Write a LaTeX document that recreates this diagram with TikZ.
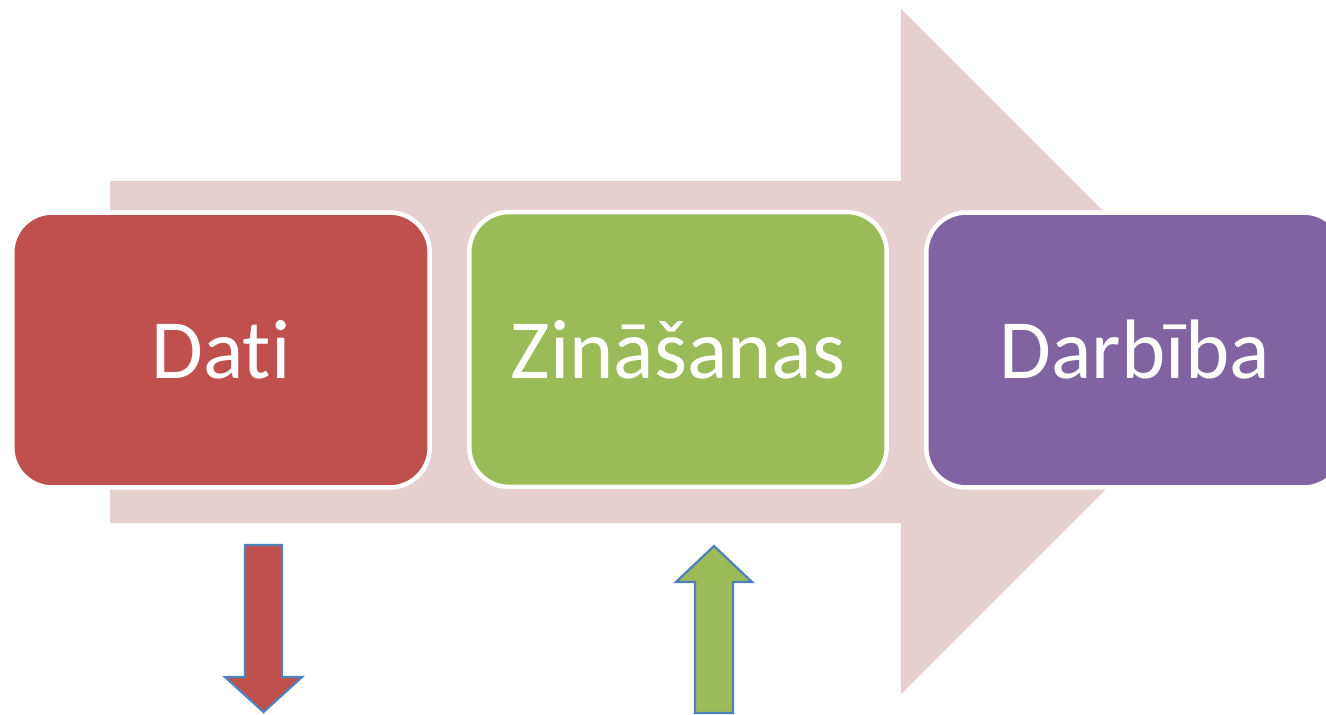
\documentclass[tikz,border=0pt]{standalone}
\usepackage{fontspec}
\setmainfont{Carlito}[Ligatures=NoCommon]
\usetikzlibrary{positioning}
\definecolor{datired}{HTML}{C0504D}
\definecolor{zinagreen}{HTML}{9BBB59}
\definecolor{darbpurple}{HTML}{8064A2}
\definecolor{flowpink}{HTML}{E7D0D0}
\definecolor{edgeblue}{HTML}{4F81BD}

\begin{document}
\begin{tikzpicture}[
  x=0.02cm,y=-0.02cm,
  box/.style={draw=white,line width=0.09cm,rounded corners=0.8cm,minimum width=8.35cm,
    minimum height=5.5cm,inner sep=0pt,text=white,font=\fontsize{48}{56}\selectfont},
  blockarrow/.style={draw=edgeblue,line width=0.045cm,line join=miter}
]
\useasboundingbox (0,0) rectangle (1326,715);
\clip (0,0) rectangle (1326,715);
% ---------------- flow arrow ----------------
\fill[flowpink] (110,181) -- (901,181) -- (901,9) -- (1243.5,351.5)
  -- (901,694) -- (901,523) -- (110,523) -- cycle;

% ---------------- boxes ----------------
\node[box,fill=datired] (dati) at (221,350) {Dati};
\node[box,fill=zinagreen] (zinasanas) at (678,349.5) {Zināšanas};
\node[box,fill=darbpurple] (darbiba) at (1135,350) {Darbība};

% ---------------- small arrows ----------------
\filldraw[blockarrow,fill=datired] (245,545) -- (282,545) -- (282,677) -- (302,677)
  -- (263.5,712) -- (225,677) -- (245,677) -- cycle;
\filldraw[blockarrow,fill=zinagreen] (714,546) -- (752,582) -- (733,582) -- (733,713)
  -- (695,713) -- (695,582) -- (676,582) -- cycle;
\end{tikzpicture}
\end{document}
